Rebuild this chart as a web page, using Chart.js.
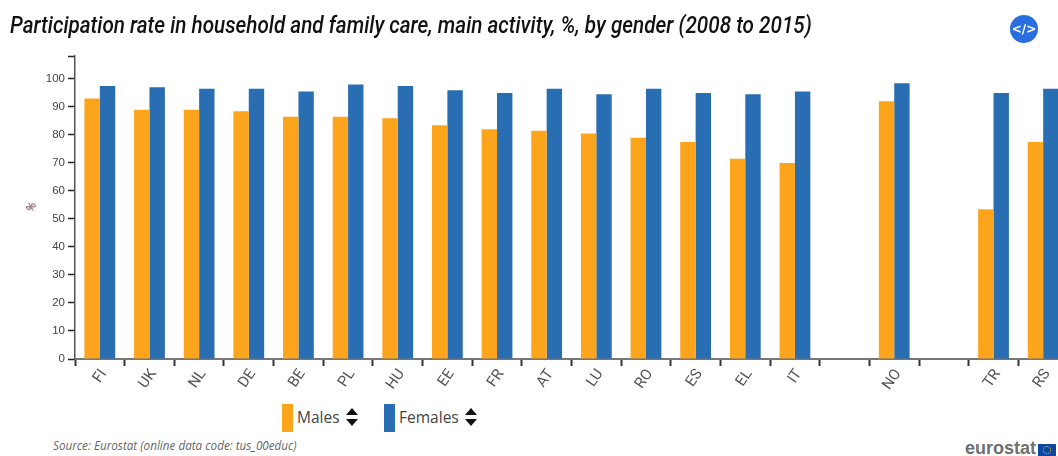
<!DOCTYPE html>
<html><head><meta charset="utf-8">
<script src="https://cdn.jsdelivr.net/npm/chart.js@4"></script>
<style>
html,body{margin:0;padding:0;background:#fff;width:1058px;height:456px;overflow:hidden}
#wrap{position:relative;width:1058px;height:456px;overflow:hidden}
canvas{position:absolute;left:0;top:0}
.t{position:absolute;white-space:nowrap}
#title{left:10px;top:11px;font:italic 500 23.6px Roboto,sans-serif;color:#111;transform-origin:0 0;transform:scaleX(.877)}
#source{left:53px;top:437px;font:italic 11.7px "Open Sans",sans-serif;color:#666}
#logo{left:965px;top:438px;font:bold 18px "Liberation Sans",sans-serif;color:#6f6f6f}
#flag{position:absolute;left:1038px;top:444px;width:18px;height:12px;background:#0e47a1}
#flag:after{content:"";position:absolute;left:5px;top:2px;width:6px;height:6px;border:1px dotted #d8c23a;border-radius:50%}
#code{position:absolute;left:1010px;top:15px;width:28px;height:28px;border-radius:50%;background:#2a6fe0;color:#fff;font:bold 12px "DejaVu Sans",sans-serif;line-height:28px;text-align:center}
#pct{left:26px;top:199px;font:11px "Open Sans",sans-serif;color:#4a1030;transform:rotate(-60deg)}
.sw{position:absolute;top:404px;width:11px;height:28px}
.lg{top:406px;font:16px "Open Sans",sans-serif;color:#444;transform-origin:0 0;transform:scaleX(.97)}
.sort{position:absolute;width:12px;height:18px}
.sort:before,.sort:after{content:"";position:absolute;left:0;border-left:6px solid transparent;border-right:6px solid transparent}
.sort:before{top:0;border-bottom:7.5px solid #111}
.sort:after{bottom:0;border-top:7.5px solid #111}
</style></head>
<body><div id="wrap">
<canvas id="c" width="1068" height="401" style="width:1068px;height:401px"></canvas>
<div class="t" id="title">Participation rate in household and family care, main activity, %, by gender (2008 to 2015)</div>
<div id="code">&lt;/&gt;</div>
<div class="t" id="pct">%</div>
<div id="legend"></div>
<div class="t" id="source">Source: Eurostat (online data code: tus_00educ)</div>
<div class="t" id="logo">eurostat</div><div id="flag"></div>
</div>
<script>
const categories=["FI","UK","NL","DE","BE","PL","HU","EE","FR","AT","LU","RO","ES","EL","IT","","NO"," ","TR","RS"];
const males=[93,89,89,88.5,86.5,86.5,86,83.5,82,81.5,80.5,79,77.5,71.5,70,null,92,null,53.5,77.5];
const females=[97.5,97,96.5,96.5,95.5,98,97.5,96,95,96.5,94.5,96.5,95,94.5,95.5,null,98.5,null,95,96.5];
const seriesNames=["Males","Females"];
const seriesColors=["#fba41c","#296db3"];

new Chart(document.getElementById('c'),{
  type:'bar',
  data:{labels:categories,datasets:[
    {label:seriesNames[0],data:males,backgroundColor:seriesColors[0]},
    {label:seriesNames[1],data:females,backgroundColor:seriesColors[1]}
  ]},
  options:{
    responsive:false,animation:false,
    layout:{padding:{top:56,left:0,right:0,bottom:0}},
    datasets:{bar:{barPercentage:1,categoryPercentage:0.62}},
    plugins:{legend:{display:false},tooltip:{enabled:false},title:{display:false}},
    scales:{
      x:{
        grid:{display:true,offset:true,drawOnChartArea:false,drawTicks:true,tickLength:7,tickColor:'#333',tickWidth:2},
        border:{display:true,color:'#777',width:2},
        ticks:{autoSkip:false,minRotation:55,maxRotation:55,padding:0,labelOffset:4,color:'#555',font:{family:'Roboto,sans-serif',size:15}},
        afterFit(s){s.height=42;}
      },
      y:{
        min:0,max:108.2,
        grid:{display:true,drawOnChartArea:false,drawTicks:true,tickLength:7,tickColor:'#222',tickWidth:1.5},
        border:{display:true,color:'#555',width:1.5},
        ticks:{stepSize:10,padding:3,color:'#444',font:{family:'"Liberation Sans",sans-serif',size:11.5},
          callback(v){return v<=100?v:'';}},
        afterFit(s){s.width=75;}
      }
    }
  }
});
const legend=document.getElementById('legend');
const swX=[282,384],txX=[297,399],arX=[346,465];
seriesNames.forEach((n,i)=>{
  legend.insertAdjacentHTML('beforeend',
   `<div class="sw" style="left:${swX[i]}px;background:${seriesColors[i]}"></div>`+
   `<div class="t lg" style="left:${txX[i]}px">${n}</div>`+
   `<div class="sort" style="left:${arX[i]}px;top:408px"></div>`);
});
</script>
</body></html>
